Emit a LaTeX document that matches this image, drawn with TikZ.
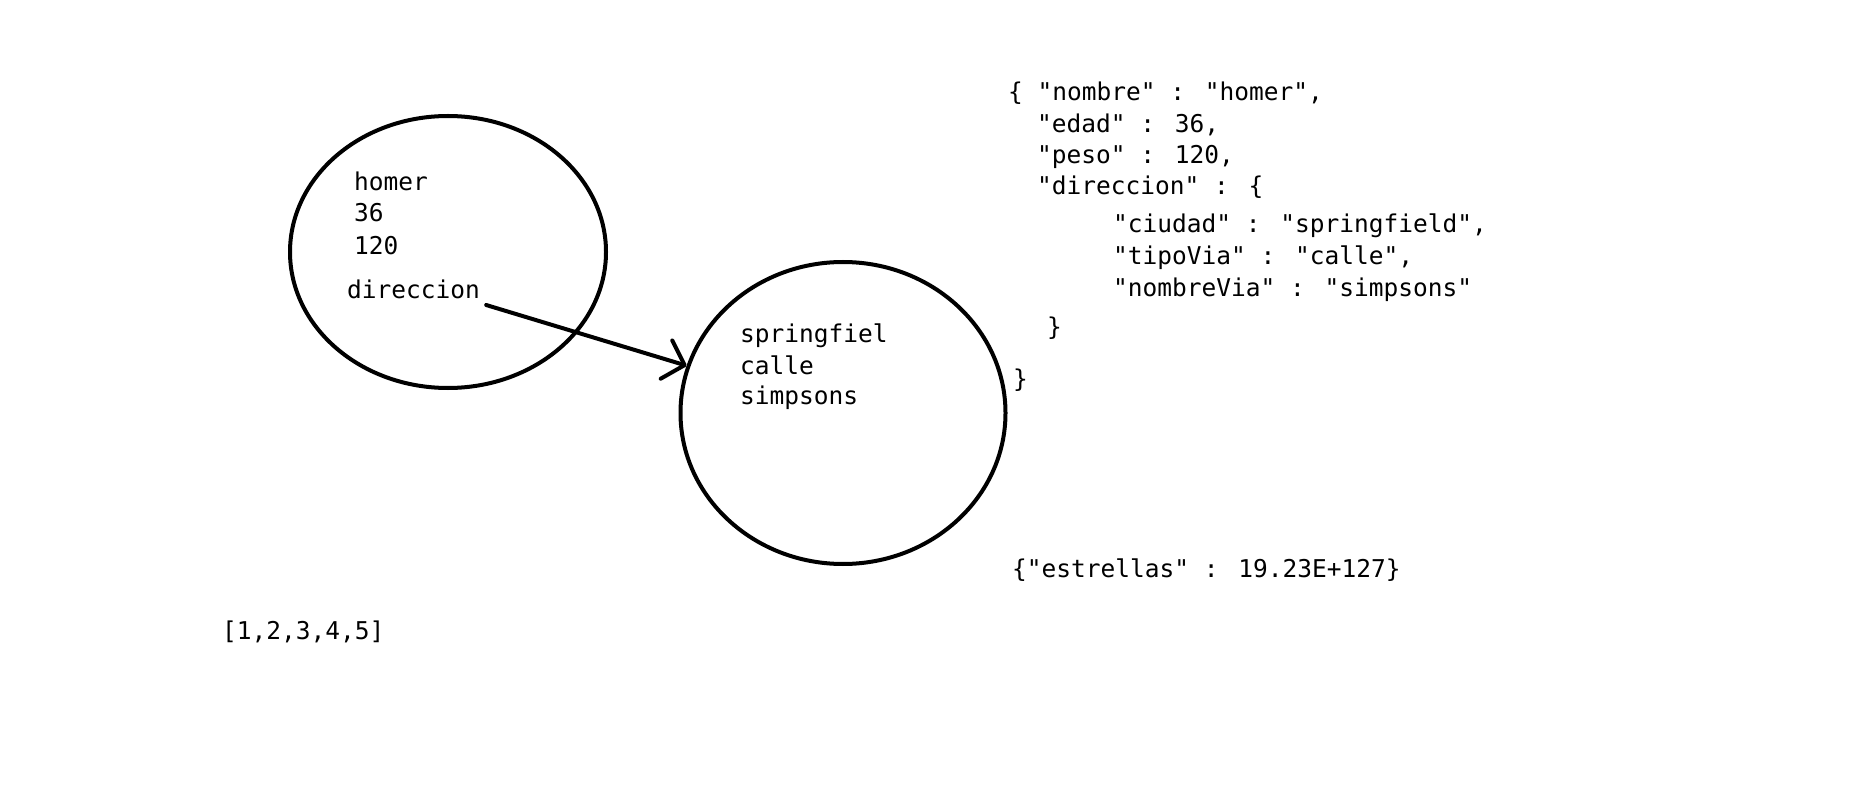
\documentclass[tikz,border=0pt]{standalone}
\usepackage{fontspec}
\newfontfamily\monofont{DejaVu Sans Mono}
\usetikzlibrary{shapes.geometric,arrows.meta}

\begin{document}
\begin{tikzpicture}[x=1pt,y=-1pt,
  obj/.style={draw,ellipse,line width=4pt,inner sep=0pt},
  txt/.style={anchor=base west,inner sep=0pt,font=\monofont\fontsize{24.5pt}{29pt}\selectfont}]
\useasboundingbox (0,0) rectangle (1853,802);
%\draw[step=100,lightgray,very thin] (0,0) grid (1853,802);

\node[obj,minimum width=316pt,minimum height=272pt] (person) at (448,252) {};
\node[obj,minimum width=325pt,minimum height=302pt] (addr) at (843,413) {};

\node[txt] (nombre) at (354,191) {homer};
\node[txt] (edad) at (354,222) {36};
\node[txt] (peso) at (354,255) {120};
\node[txt] (dir) at (347,299) {direccion};

\node[txt] (ciudad) at (740,342) {springfiel};
\node[txt] (tipovia) at (740,374) {calle};
\node[txt] (nombrevia) at (740,404) {simpsons};

\coordinate (dirtail) at ([xshift=6pt,yshift=-6pt]dir.base east);
\draw[line width=4pt,line cap=round,-{Straight Barb[length=19pt,width=40pt,round]}] (dirtail) -- (addr);

\node[txt] (j1) at (1008,101) {\{ "nombre" : "homer",};
\node[txt] (j2) at (1037,133) {"edad" : 36,};
\node[txt] (j3) at (1037,164) {"peso" : 120,};
\node[txt] (j4) at (1037,195) {"direccion" : \{};
\node[txt] (j5) at (1113,233) {"ciudad" : "springfield",};
\node[txt] (j6) at (1113,265) {"tipoVia" : "calle",};
\node[txt] (j7) at (1113,297) {"nombreVia" : "simpsons"};
\node[txt] (j8) at (1047,335) {\}};
\node[txt] (j9) at (1013,388) {\}};

\node[txt] (estrellas) at (1012,577) {\{"estrellas" : 19.23E+127\}};
\node[txt] (lista) at (222,639) {[1,2,3,4,5]};

\end{tikzpicture}
\end{document}
